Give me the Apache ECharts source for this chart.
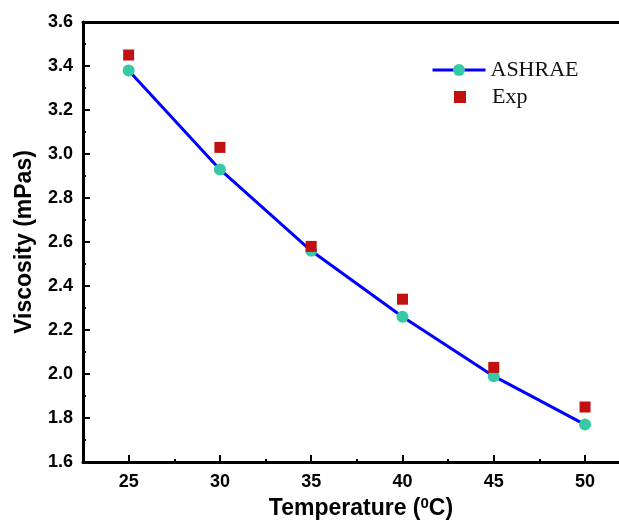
<!DOCTYPE html>
<html>
<head>
<meta charset="utf-8">
<script src="https://cdn.jsdelivr.net/npm/echarts@6/dist/echarts.min.js"></script>
<style>html,body{margin:0;padding:0;background:#fff}#c{width:619px;height:522px}</style>
</head>
<body>
<div id="c"></div>
<script>
const temperatures = [25, 30, 35, 40, 45, 50];
const ashrae = [3.38, 2.93, 2.56, 2.26, 1.99, 1.77];
const exp = [3.45, 3.03, 2.58, 2.34, 2.03, 1.85];
const xMajorTicks = [25, 30, 35, 40, 45, 50];
const xMinorTicks = [27.5, 32.5, 37.5, 42.5, 47.5];

const chart = echarts.init(document.getElementById('c'));
const FONT = 'Liberation Sans, Arial, sans-serif';
const labelFont = {color: '#000', fontFamily: FONT, fontWeight: 'bold', fontSize: 18};
chart.setOption({
  animation: false,
  grid: {left: 83, right: 0, top: 22, bottom: 60, containLabel: false, outerBoundsMode: 'none'},
  xAxis: [{
    type: 'value', min: 22.5, max: 51.86, position: 'bottom',
    axisLine: {show: true, onZero: false, lineStyle: {color: '#000', width: 3}},
    axisTick: {show: true, inside: true, length: 7, customValues: xMajorTicks, lineStyle: {color: '#000', width: 2}},
    axisLabel: {customValues: xMajorTicks, margin: 11, ...labelFont},
    splitLine: {show: false},
    name: 'Temperature ({sup|0}C)', nameLocation: 'middle', nameGap: 34,
    nameTextStyle: {color: '#000', fontFamily: FONT, fontWeight: 'bold', fontSize: 23, padding: [0, 0, 0, 20],
      rich: {sup: {fontSize: 15, fontWeight: 'bold', fontFamily: FONT, color: '#000', verticalAlign: 'top', padding: [0, 0, 10, 0]}}}
  }, {
    type: 'value', min: 22.5, max: 51.86, position: 'bottom', offset: 0,
    axisLine: {show: false, onZero: false},
    axisTick: {show: true, inside: true, length: 3, customValues: xMinorTicks, lineStyle: {color: '#000', width: 2}},
    axisLabel: {show: false},
    splitLine: {show: false}
  }, {
    type: 'value', min: 22.5, max: 51.86, position: 'top',
    axisLine: {show: true, onZero: false, lineStyle: {color: '#000', width: 3}},
    axisTick: {show: false},
    axisLabel: {show: false},
    splitLine: {show: false}
  }],
  yAxis: {
    type: 'value', min: 1.6, max: 3.6, interval: 0.2,
    axisLine: {show: true, onZero: false, lineStyle: {color: '#000', width: 3}},
    axisTick: {show: true, inside: true, length: 7, lineStyle: {color: '#000', width: 2}},
    minorTick: {show: true, splitNumber: 2, length: 3, lineStyle: {color: '#000', width: 2}},
    axisLabel: {margin: 10, formatter: v => v.toFixed(1), ...labelFont},
    splitLine: {show: false},
    name: 'Viscosity (mPas)', nameLocation: 'middle', nameGap: 47,
    nameTextStyle: {color: '#000', fontFamily: FONT, fontWeight: 'bold', fontSize: 23}
  },
  legend: [{
    data: ['ASHRAE'], left: 431, top: 59, orient: 'vertical', padding: 0,
    itemWidth: 53, itemHeight: 15,
    lineStyle: {width: 3},
    textStyle: {color: '#111', fontFamily: 'Liberation Serif, Times New Roman, serif', fontSize: 22}
  }, {
    data: ['Exp'], left: 454, top: 86, orient: 'vertical', padding: 0,
    itemWidth: 12, itemHeight: 12,
    textStyle: {color: '#111', fontFamily: 'Liberation Serif, Times New Roman, serif', fontSize: 22, padding: [0, 0, 0, 21]}
  }],
  series: [{
    name: 'ASHRAE', type: 'line',
    data: temperatures.map((t, i) => [t, ashrae[i]]),
    symbol: 'circle', symbolSize: 12,
    lineStyle: {color: '#0000ff', width: 3},
    itemStyle: {color: '#36c9a6', opacity: 1},
    z: 3
  }, {
    name: 'Exp', type: 'scatter',
    data: temperatures.map((t, i) => [t, exp[i]]),
    symbol: 'rect', symbolSize: 11,
    itemStyle: {color: '#c21010', opacity: 1},
    z: 4
  }]
});
</script>
</body>
</html>
